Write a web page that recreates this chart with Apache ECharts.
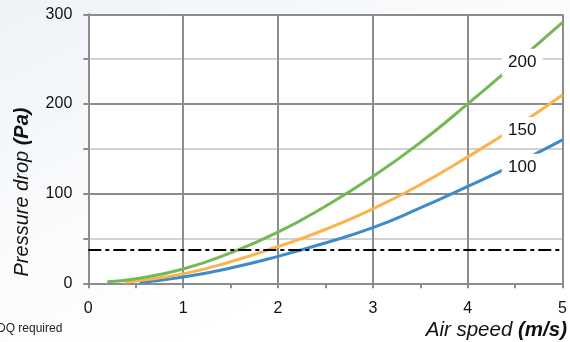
<!DOCTYPE html>
<html><head><meta charset="utf-8">
<script src="https://cdn.jsdelivr.net/npm/echarts@6/dist/echarts.min.js"></script>
<style>html,body{margin:0;padding:0;}#c{width:570px;height:342px;}</style>
</head><body><div id="c"></div>
<script>
// Data
const speed200 = [0.2, 0.5, 1, 1.5, 2, 2.5, 3, 3.5, 4, 4.5, 5];
const drop200  = [1.8, 5, 16, 34, 57, 86, 119, 157, 200, 245, 291];
const speed150 = [0.38, 0.5, 1, 1.5, 2, 2.5, 3, 3.5, 4, 4.5, 5];
const drop150  = [1.3, 2.5, 10.5, 24, 41, 60, 83, 110, 141, 174, 210];
const speed100 = [0.54, 1, 1.5, 2, 2.5, 3, 3.5, 4, 4.5, 5];
const drop100  = [0.8, 7, 17, 30, 45, 62, 84, 108, 133, 160];
const requiredDrop = 37;
const xTicks = [0, 1, 2, 3, 4, 5];
const yTicks = [0, 100, 200, 300];

const pairs = (xs, ys) => xs.map((x, i) => [x, ys[i]]);
const FONT = '"Liberation Sans", Arial, sans-serif';

function curveLabel(text, x, y) {
  return {
    silent: true,
    symbol: 'rect', symbolSize: [41, 27],
    itemStyle: { color: '#ffffff' },
    label: { show: true, formatter: text, position: 'inside', color: '#111',
      fontFamily: FONT, fontSize: 17 },
    data: [{ coord: [x, y] }]
  };
}

const chart = echarts.init(document.getElementById('c'));
chart.setOption({
  animation: false,
  backgroundColor: {
    type: 'linear', x: 0, y: 0, x2: 0.3, y2: 1,
    colorStops: [{ offset: 0, color: '#eef3f8' }, { offset: 0.5, color: '#f8fafc' }, { offset: 1, color: '#ffffff' }]
  },
  grid: { left: 88.3, right: 3.3, top: 14.3, bottom: 58.7, show: true, backgroundColor: '#fff', borderWidth: 0 },
  xAxis: {
    type: 'value', min: xTicks[0], max: xTicks[xTicks.length - 1], interval: 1,
    axisLine: { show: true, lineStyle: { color: '#8c8c8c', width: 2 } },
    axisTick: { show: true, inside: false, length: 5, lineStyle: { color: '#8c8c8c', width: 2 } },
    minorTick: { show: true, splitNumber: 2, length: 5, lineStyle: { color: '#8c8c8c', width: 2 } },
    splitLine: { show: true, lineStyle: { color: '#8c8c8c', width: 2 } },
    axisLabel: { color: '#111', fontFamily: FONT, fontSize: 16, margin: 17 }
  },
  yAxis: {
    type: 'value', min: yTicks[0], max: yTicks[yTicks.length - 1], interval: 100,
    axisLine: { show: true, lineStyle: { color: '#8c8c8c', width: 2 } },
    axisTick: { show: true, inside: false, length: 5, lineStyle: { color: '#8c8c8c', width: 2 } },
    minorTick: { show: true, splitNumber: 2, length: 5, lineStyle: { color: '#8c8c8c', width: 2 } },
    splitLine: { show: true, lineStyle: { color: '#8c8c8c', width: 2 } },
    minorSplitLine: { show: true, lineStyle: { color: '#c4c4c4', width: 1.5 } },
    axisLabel: { color: '#111', fontFamily: FONT, fontSize: 16, margin: 16 }
  },
  series: [
    { type: 'line', data: pairs(speed100, drop100), smooth: true, showSymbol: false,
      lineStyle: { color: '#3d8bcb', width: 3 }, z: 3,
      markPoint: curveLabel('100', 4.575, 129.5) },
    { type: 'line', data: pairs(speed150, drop150), smooth: true, showSymbol: false,
      lineStyle: { color: '#fbb24f', width: 3 }, z: 3,
      markPoint: curveLabel('150', 4.575, 170.5) },
    { type: 'line', data: pairs(speed200, drop200), smooth: true, showSymbol: false,
      lineStyle: { color: '#74b857', width: 3 }, z: 3,
      markPoint: curveLabel('200', 4.575, 246.5),
      markLine: { symbol: 'none', silent: true, label: { show: false },
        lineStyle: { color: '#000', width: 2, type: [13, 4, 4, 4] },
        data: [{ yAxis: requiredDrop }] } }
  ],
  graphic: [
    { type: 'text', x: 22, y: 192, rotation: Math.PI / 2,
      style: { text: '{i|Pressure drop }{b|(Pa)}', align: 'center', verticalAlign: 'middle',
        rich: { i: { fontFamily: FONT, fontStyle: 'italic', fontSize: 20, fill: '#111' },
                b: { fontFamily: FONT, fontStyle: 'italic', fontWeight: 'bold', fontSize: 20, fill: '#111' } } } },
    { type: 'text', x: 567, y: 330,
      style: { text: '{i|Air speed }{b|(m/s)}', align: 'right', verticalAlign: 'middle',
        rich: { i: { fontFamily: FONT, fontStyle: 'italic', fontSize: 20.5, fill: '#111' },
                b: { fontFamily: FONT, fontStyle: 'italic', fontWeight: 'bold', fontSize: 20.5, fill: '#111' } } } },
    { type: 'text', x: -3, y: 329,
      style: { text: 'DQ required', fontFamily: FONT, fontSize: 12, fill: '#222', verticalAlign: 'middle' } }
  ]
});
</script></body></html>
